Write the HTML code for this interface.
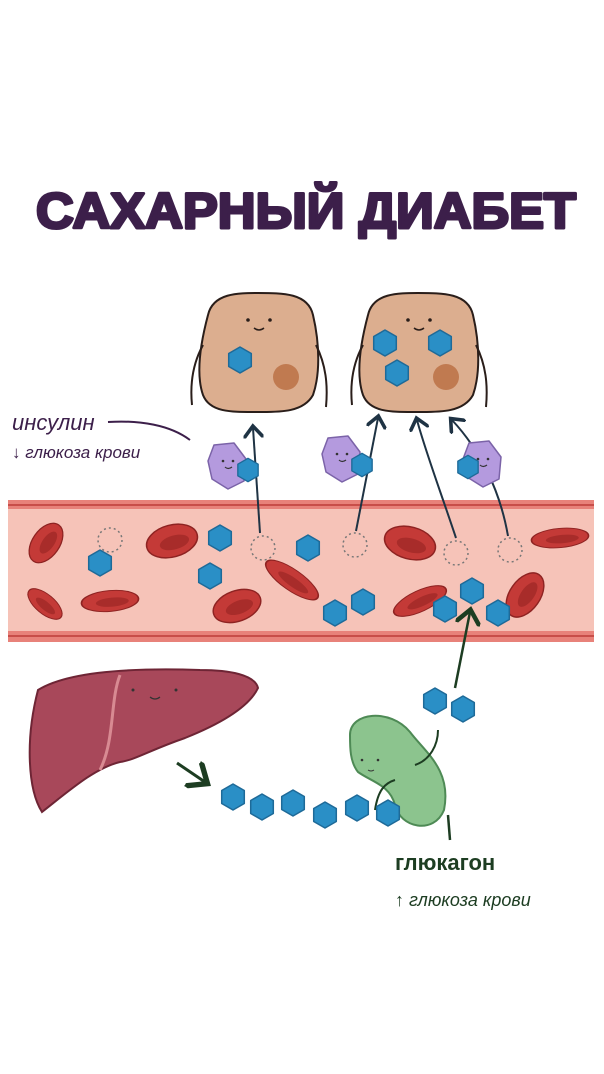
<!DOCTYPE html>
<html><head><meta charset="utf-8"><style>
html,body{margin:0;padding:0;background:#fff;width:604px;height:1074px;overflow:hidden}
svg{display:block}
</style></head><body>
<svg width="604" height="1074" viewBox="0 0 604 1074" xmlns="http://www.w3.org/2000/svg">
<defs>
<g id="hx"><polygon points="0,-13 11.3,-6.5 11.3,6.5 0,13 -11.3,6.5 -11.3,-6.5" fill="#2a8fc6" stroke="#1e6a98" stroke-width="1.5" stroke-linejoin="round"/></g>
<g id="rbc"><ellipse cx="0" cy="0" rx="26" ry="16" fill="#c43a37" stroke="#8e2322" stroke-width="1.5"/><ellipse cx="2" cy="2" rx="15" ry="7" fill="#a82c2a"/></g>
<g id="dot"><circle r="12" fill="none" stroke="#777" stroke-width="1.5" stroke-dasharray="2 3"/></g>
<g id="cell">
<path d="M-50,-40 C-45,-62 -20,-62 0,-62 C25,-62 50,-62 55,-40 C62,-10 62,20 55,40 C45,58 20,57 0,57 C-25,57 -48,58 -55,40 C-62,20 -58,-10 -50,-40Z" fill="#dcae8f" stroke="#2a1e1a" stroke-width="2"/>
<path d="M-55,-10 C-66,10 -68,30 -66,50 M58,-10 C68,10 70,30 68,52" stroke="#2a1e1a" stroke-width="2" fill="none"/>
<circle cx="28" cy="22" r="13" fill="#c07a50"/>
<circle cx="-10" cy="-35" r="1.8" fill="#2a1e1a"/><circle cx="12" cy="-35" r="1.8" fill="#2a1e1a"/>
<path d="M-4,-27 Q1,-23 6,-27" stroke="#2a1e1a" stroke-width="1.5" fill="none"/>
</g>
<g id="ins">
<path d="M-14,-20 L6,-22 L18,-6 L16,16 L0,24 L-16,14 L-20,-4Z" fill="#b49ade" stroke="#7b63a8" stroke-width="1.5" stroke-linejoin="round"/>
<circle cx="-5" cy="-4" r="1.3" fill="#333"/><circle cx="5" cy="-4" r="1.3" fill="#333"/>
<path d="M-3,2 Q0,5 4,2" stroke="#333" stroke-width="1.2" fill="none"/>
</g>
<marker id="ar" markerWidth="10" markerHeight="10" refX="5" refY="5" orient="auto"><path d="M0,0 L6,5 L0,10" fill="none" stroke="#1f3344" stroke-width="1.8"/></marker>
<marker id="ag" markerWidth="10" markerHeight="10" refX="5" refY="5" orient="auto"><path d="M0,0 L6,5 L0,10" fill="none" stroke="#1d3d22" stroke-width="1.8"/></marker>
</defs>

<text x="306" y="228" text-anchor="middle" font-family="Liberation Sans, sans-serif" font-weight="bold" font-size="50" fill="#3c1f4a" stroke="#3c1f4a" stroke-width="3" stroke-linejoin="round" textLength="540" lengthAdjust="spacingAndGlyphs">САХАРНЫЙ ДИАБЕТ</text>

<use href="#cell" x="258" y="355"/>
<use href="#cell" x="418" y="355"/>
<use href="#hx" x="240" y="360"/>
<use href="#hx" x="385" y="343"/><use href="#hx" x="440" y="343"/><use href="#hx" x="397" y="373"/>

<rect x="8" y="500" width="586" height="142" fill="#e8827a"/>
<rect x="8" y="509" width="586" height="122" fill="#f6c3b8"/>
<line x1="8" y1="505" x2="594" y2="505" stroke="#c84e49" stroke-width="2"/>
<line x1="8" y1="636" x2="594" y2="636" stroke="#c84e49" stroke-width="2"/>

<use href="#rbc" transform="translate(46,543) rotate(-55) scale(0.85)"/>
<use href="#rbc" transform="translate(172,541) rotate(-15)"/>
<use href="#rbc" transform="translate(45,604) rotate(40) scale(0.8,0.6)"/>
<use href="#rbc" transform="translate(110,601) rotate(-5) scale(1.1,0.65)"/>
<use href="#rbc" transform="translate(237,606) rotate(-20) scale(0.95)"/>
<use href="#rbc" transform="translate(292,580) rotate(35) scale(1.2,0.65)"/>
<use href="#rbc" transform="translate(410,543) rotate(15)"/>
<use href="#rbc" transform="translate(420,601) rotate(-25) scale(1.1,0.65)"/>
<use href="#rbc" transform="translate(525,595) rotate(-55) scale(0.95)"/>
<use href="#rbc" transform="translate(560,538) rotate(-5) scale(1.1,0.6)"/>

<use href="#hx" x="100" y="563"/><use href="#hx" x="220" y="538"/><use href="#hx" x="210" y="576"/>
<use href="#hx" x="308" y="548"/><use href="#hx" x="335" y="613"/><use href="#hx" x="363" y="602"/>
<use href="#hx" x="445" y="609"/><use href="#hx" x="472" y="591"/><use href="#hx" x="498" y="613"/>
<use href="#dot" x="110" y="540"/><use href="#dot" x="263" y="548"/><use href="#dot" x="355" y="545"/>
<use href="#dot" x="456" y="553"/><use href="#dot" x="510" y="550"/>

<path d="M260,533 L253,428" stroke="#1f3344" stroke-width="2" fill="none" marker-end="url(#ar)"/>
<path d="M356,531 L378,418" stroke="#1f3344" stroke-width="2" fill="none" marker-end="url(#ar)"/>
<path d="M456,538 C440,490 425,450 417,420" stroke="#1f3344" stroke-width="2" fill="none" marker-end="url(#ar)"/>
<path d="M508,536 C500,490 480,450 452,420" stroke="#1f3344" stroke-width="2" fill="none" marker-end="url(#ar)"/>

<use href="#ins" x="228" y="465"/><use href="#hx" transform="translate(248,470) scale(0.9)"/>
<use href="#ins" x="342" y="458"/><use href="#hx" transform="translate(362,465) scale(0.9)"/>
<use href="#ins" x="483" y="463"/><use href="#hx" transform="translate(468,467) scale(0.9)"/>

<path d="M108,422 C140,420 170,425 190,440" stroke="#3c1f4a" stroke-width="2" fill="none"/>
<text x="12" y="430" font-family="Liberation Sans, sans-serif" font-style="italic" font-size="22" fill="#3c1f4a">инсулин</text>
<text x="12" y="458" font-family="Liberation Sans, sans-serif" font-style="italic" font-size="17" fill="#3c1f4a">↓ глюкоза крови</text>

<path d="M38,690 C70,670 140,668 200,670 C230,670 255,675 258,688 C250,705 225,722 185,738 C150,750 135,760 120,762 C95,768 70,790 42,812 C28,790 25,740 38,690Z" fill="#a8485a" stroke="#6e2535" stroke-width="2"/>
<path d="M120,675 C110,700 115,740 100,770" stroke="#d88a92" stroke-width="3" fill="none"/>
<circle cx="133" cy="690" r="1.5" fill="#333"/><circle cx="176" cy="690" r="1.5" fill="#333"/>
<path d="M150,697 Q155,701 160,697" stroke="#333" stroke-width="1.2" fill="none"/>
<path d="M177,763 L205,782" stroke="#1d3d22" stroke-width="3" fill="none" marker-end="url(#ag)"/>

<path d="M350,735 C350,712 390,708 410,732 C425,752 452,770 444,810 C434,835 400,828 395,805 C390,785 372,782 358,772 C350,762 350,748 350,735Z" fill="#8cc48e" stroke="#4e8a55" stroke-width="2"/>
<circle cx="362" cy="760" r="1.3" fill="#333"/><circle cx="378" cy="760" r="1.3" fill="#333"/>
<path d="M368,770 Q371,772 374,770" stroke="#333" stroke-width="1" fill="none"/>
<path d="M375,810 C378,790 385,783 395,780 M415,765 C430,760 438,745 438,730" stroke="#1d3d22" stroke-width="2" fill="none"/>
<use href="#hx" x="233" y="797"/>
<use href="#hx" x="262" y="807"/><use href="#hx" x="293" y="803"/>
<use href="#hx" x="325" y="815"/><use href="#hx" x="357" y="808"/>
<use href="#hx" x="388" y="813"/>
<use href="#hx" x="435" y="701"/><use href="#hx" x="463" y="709"/>
<path d="M455,688 L470,612" stroke="#1d3d22" stroke-width="2.5" fill="none" marker-end="url(#ag)"/>
<path d="M448,815 L450,840" stroke="#1d3d22" stroke-width="2.5"/>

<text x="395" y="870" font-family="Liberation Sans, sans-serif" font-weight="bold" font-size="22" fill="#1d3d22">глюкагон</text>
<text x="395" y="906" font-family="Liberation Sans, sans-serif" font-style="italic" font-size="18" fill="#1d3d22">↑ глюкоза крови</text>
</svg>
</body></html>
